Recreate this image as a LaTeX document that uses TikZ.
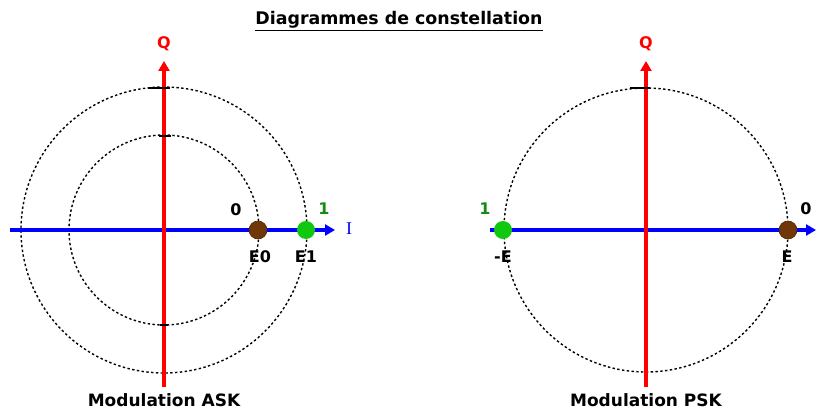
\documentclass[tikz,border=0pt]{standalone}
\usepackage{fontspec}
\setmainfont{DejaVu Sans}
\newfontfamily\axisserif{Liberation Serif}
\usetikzlibrary{arrows.meta}
\definecolor{brownpt}{RGB}{112,56,8}
\definecolor{greenpt}{RGB}{16,200,16}
\definecolor{greenlbl}{RGB}{20,140,20}
\begin{document}
\begin{tikzpicture}[x=1pt,y=-1pt,
  ring/.style={draw=black,line width=1.4pt,dash pattern=on 2.4pt off 2.4pt},
  qaxis/.style={draw=red,line width=3.2pt,-{Triangle[length=10pt,width=11pt]}},
  iaxis/.style={draw=blue,line width=3.2pt,-{Triangle[length=10pt,width=11pt]}},
  pt/.style={circle,draw=none,minimum size=18pt,inner sep=0pt},
  lbl/.style={font=\fontsize{16}{16}\selectfont\bfseries,inner sep=0pt},
  caption/.style={font=\fontsize{17}{17}\selectfont\bfseries,inner sep=0pt},
  tick/.style={draw=black,line width=2.4pt}]
\useasboundingbox (0,0) rectangle (823,409);
% title
\node[font=\fontsize{17.4}{17}\selectfont\bfseries,inner sep=1pt] (title) at (399,21) {\underline{Diagrammes de constellation}};
% ===== ASK =====
\coordinate (a) at (164,230);
\draw[ring] (a) circle[radius=143];
\draw[ring] (a) circle[radius=95];
\coordinate (aL) at (10,230);
\coordinate (aR) at (335,230);
\coordinate (aB) at (164,387);
\coordinate (aT) at (164,61);
\draw[iaxis] (aL) -- (aR);
\draw[qaxis] (aB) -- (aT);
\draw[tick] (148,88) -- (170,88);
\draw[tick] (159,136) -- (171,136);
\draw[tick] (160,325) -- (168,325);
\node[pt,fill=brownpt,draw=brownpt!70!black,line width=0.6pt] (e0) at (258,230) {};
\node[pt,fill=greenpt] (e1) at (306,230) {};
\node[lbl,text=red] (aq) at (164,44) {Q};
\node[font=\fontsize{18}{18}\selectfont\axisserif,text=blue,inner sep=0pt] (ai) at (349,229) {I};
\node[lbl] (a0) at (236,210) {0};
\node[lbl,text=greenlbl] (a1) at (324,209) {1};
\node[lbl] (le0) at (260,257) {E0};
\node[lbl] (le1) at (306,257) {E1};
\node[caption] (ask) at (164,400) {Modulation ASK};
% ===== PSK =====
\coordinate (p) at (646,230);
\draw[ring] (p) circle[radius=142];
\coordinate (pL) at (490,230);
\coordinate (pR) at (816,230);
\coordinate (pB) at (646,387);
\coordinate (pT) at (646,61);
\draw[iaxis] (pL) -- (pR);
\draw[qaxis] (pB) -- (pT);
\draw[tick] (630,88) -- (650,88);
\node[pt,fill=greenpt] (m1) at (503,230) {};
\node[pt,fill=brownpt,draw=brownpt!70!black,line width=0.6pt] (m0) at (788,230) {};
\node[lbl,text=red] (pq) at (646,44) {Q};
\node[lbl,text=greenlbl] (p1) at (485,209) {1};
\node[lbl] (p0) at (806,209) {0};
\node[lbl] (lme) at (503,257) {-E};
\node[lbl] (lpe) at (787,257) {E};
\node[caption] (psk) at (646,400) {Modulation PSK};
\end{tikzpicture}
\end{document}
